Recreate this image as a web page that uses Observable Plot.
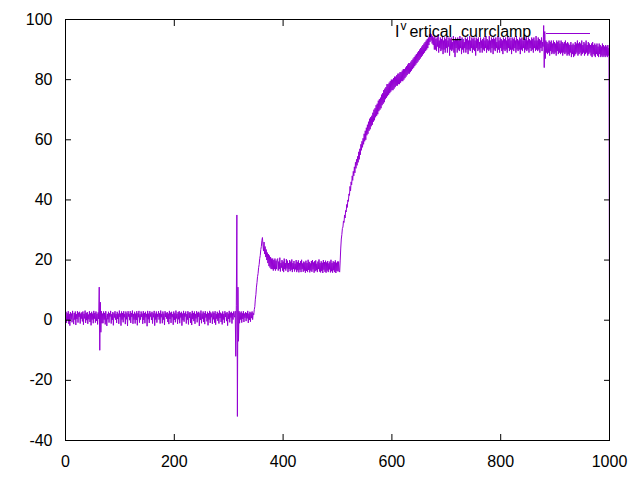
<!DOCTYPE html>
<html><head><meta charset="utf-8">
<script src="https://cdn.jsdelivr.net/npm/d3@7"></script>
<script src="https://cdn.jsdelivr.net/npm/@observablehq/plot@0.6"></script>
<style>body{margin:0;background:#fff;} svg{display:block}</style>
</head><body><div id="chart"></div>
<script>
// Legend text (gnuplot enhanced: "I" + superscript "v" + "ertical_currclamp")
const legendParts = ["I", "v", "ertical_currclamp"];
// Sample spacing along x
const xStep = 1;
// Values, one per x-unit from 0 to 1000
const values = [
  // 0-61
  1.2,2.8,-0.9,2.3,0.1,3,-1.2,2.1,-1.8,2.7,
  0.3,2.2,-0.7,3.1,1,-1.3,2.4,0.2,2.9,-1.6,
  2,0.4,3,-0.8,2.5,1.1,2.8,-1.1,2.2,0.5,
  2.6,-0.4,2.9,-1.5,2.1,0.6,3.2,-0.9,2.4,0,
  2.7,-1.2,1.9,0.3,3,-0.6,2.3,-1.7,2.8,0.2,
  2.2,-1,3.1,0.5,2.4,-0.8,2.9,-0.2,2.1,-1.4,
  2.6,0.4,
  // 62-67 first spike
  11,-10,6,-4,3,-1,
  // 68-310
  2.2,-1,2.9,0.2,2.4,-1.4,3,1,-1.9,2.1,
  0.3,2.8,-0.8,2.3,1.2,3.1,-1.1,2,0.1,2.7,
  -1.7,2.3,0.9,3,0.2,2.1,-0.9,2.8,0.4,2.2,
  -1.2,3.2,1.1,2.2,-1.8,2.9,0.2,2.4,-0.7,3,
  1,2.1,-1.3,2.9,0.3,2.3,-1.9,3,1.2,2.1,
  0,3,-0.9,2.4,1.1,3.2,-1.2,2.1,0.2,2.8,
  -1.1,2.2,0.1,3,-1.7,2.3,1,3.1,-0.8,2,
  0.2,2.9,1.1,2.2,-1.2,3,0.1,2.4,-1,2.8,
  1,2.1,-2,3.1,0.3,2.2,-0.9,3,1.2,2.3,
  0.1,2.8,-1.1,2.3,1,3.1,-1.8,2.2,0.2,2.9,
  -0.8,2.1,1.1,3,0.2,2.3,-1.1,3.2,1,2.1,
  -1,2.9,0.2,2.2,-1.6,3,1.1,2.4,0.5,2.7,
  -0.6,2.2,-1.3,3.1,0.4,2.5,-0.9,2.8,1,2,
  -1.5,2.9,0.1,2.3,-0.7,3.2,0.6,2.1,-1.2,2.7,
  0.3,3,-1,2.4,0.9,2.8,-1.8,2.2,0,3.1,
  -0.5,2.3,1.2,2.9,-1.1,2.1,0.2,3,-1.4,2.5,
  0.8,2.7,-0.9,2.2,-1.6,3.1,0.4,2.4,-0.3,2.9,
  -1.2,2.1,0.6,3,-0.7,2.5,1.1,2.8,-1.9,2.3,
  0.1,3.2,-1,2.2,0.5,2.9,-0.6,2.4,-1.3,3,
  0.9,2.1,-0.4,2.8,-1.7,2.3,0.2,3.1,-0.9,2.6,
  1,2.2,-1.2,2.9,0.3,2.4,-0.8,3,-1.5,2.1,
  0.5,2.8,-0.2,2.3,-1.1,3.2,0.7,2.5,-0.6,2.2,
  -1.4,2.9,0.2,2.1,-0.9,3,1.1,2.4,-0.3,2.7,
  -1.8,2.2,0.4,3.1,-0.7,2.5,0.9,2.8,-1.1,2.3,
  0.2,2.9,1.5,
  // 311-320 big spike
  1,3,-12,5,35,-32,11,-7,3,-1,
  // 321-346
  2.5,0.2,2.9,-0.8,2.3,0.4,3,-0.6,2.2,0.8,
  2.7,-0.3,2.4,0.6,3.1,-0.9,2.2,0.1,2.8,-0.5,
  2.5,0.7,2.9,0.2,2.3,1.8,
  // 347-362 rise
  3.5,4.5,7,8.5,11,12.5,14.5,15.5,17.5,18.5,20.5,21.5,23.5,24.5,26.5,27.5,
  // 363-389 decay
  25,23,26,22,24.5,21,23.5,20,22.5,19,22,18,21.5,17.5,21,17,20.5,17,20.5,16.5,20,17,20.5,16.5,19.8,17,20.2,
  // 390-501 plateau
  20.5,16.5,19.5,17,20.8,16.2,19,17.5,20,16.5,
  19.5,16,20.5,17,19,16.5,20.3,17.2,19.8,16,
  19,17,20,16.3,19.5,16.8,20.2,16,19,17,
  19.7,16.2,18.8,16.9,20,16,19.3,16.6,19.9,15.9,
  19,16.8,19.6,16,20.1,17,18.9,16.1,19.5,16.5,
  19.2,15.8,19.8,16.4,19,16,20.1,16.7,19.4,15.9,
  18.9,16.5,19.7,16.1,20,16.9,19.2,15.8,19.6,16.3,
  19.9,16.6,18.8,16,19.5,17,20.2,16.2,19,15.9,
  19.6,16.4,19.1,15.7,20,16.8,19.3,16.1,19.8,15.8,
  19.2,16.5,19.7,16,18.9,16.9,19.5,15.9,20.1,16.3,
  19,15.8,19.6,16.6,19.3,16,19.9,15.7,19.1,16.4,
  19.5,16.2,
  // 502-677 rise
  19.5,16.5,16,20,24,27,28.5,30.5,31,33,
  32.5,35,34,36.5,36,38.5,37.5,40,39.5,42,
  41.5,44.5,43,46,45,48,46.5,49.5,48,51,
  49,52.5,50.5,53.5,51.5,54.5,52.5,56,53.5,57,
  55,58.5,56.5,59.5,57.5,60.5,58.5,62,59.5,63,
  60,64,61.5,65,62,66,63,67,63.5,67.5,
  64.5,68,65,69,66,70,66.5,70.5,67.5,71.5,
  68,72,68.5,73,69.5,73.5,70,74,70.5,75,
  71.5,75.5,72,76.5,72.5,77,73.5,77.5,74,78.5,
  74.5,78.5,75,79,75.5,79.5,76,80,76.5,80,
  76.5,80.5,77,81,77.5,81,78,81.5,78,82,
  78.5,82,78.5,82.5,79,82.5,79.5,83,79.5,83.5,
  80,83.5,80.5,84,81,84.5,81.5,85,82,85.5,
  82,85.5,82.5,86,83,86.5,83.5,87,84,87.5,
  84.5,88,85,88.5,85.5,89,86,89.5,86.5,90,
  87,90.5,87.5,91,88,91.5,88.5,92,89,92.5,
  89.5,93,90,93.5,90.5,94,91.5,95,92.5,95.5,
  93,95,92,94.5,91.5,94,
  // 678-877 high plateau
  90,94.5,90,93.5,89.5,94,91,95,89,93,
  90.5,94,89.5,93.5,90,94.5,88.5,93,90,94,
  89,93.5,90.5,94.5,89,93,91,94,88,93.5,
  90,94,89.5,92.5,90,94.5,89,93,87.5,94,
  90.5,93.5,89,94,90,93,89.5,94.5,90.5,93,
  88.5,94,90,93.5,89,92.5,90.5,94,89,93.5,
  90,94,88.5,93,90,94.5,89.5,93,90.5,94,
  89,93.5,90,94,89.5,93,88,94,90.5,93.5,
  89.5,94,90,92.5,89,94,90.5,93,89,93.5,
  90,94,89.5,93,90.5,94.5,89,93.5,90,93,
  89.5,94.5,90,93,89,94,90.5,93.5,88.5,94,
  90,93.5,89.5,94,90.5,92.5,89,94.5,90,93,
  89,94,90.5,93.5,89.5,93,88.5,94,90,93.5,
  89.5,94,90,93,89,94.5,90.5,93.5,89.5,94,
  90,93,88.5,94,90,93.5,89.5,94,90.5,93,
  89,94.5,90,93.5,89.5,93,90,94,88.5,93.5,
  90,94,89.5,93,90.5,94,89,93.5,90,94.5,
  89.5,93,90,94,89,93.5,90.5,93,89.5,94,
  90,93.5,89,94,90.5,93,89.5,94.5,90,93,
  89.5,94,90,93.5,89,93,90.5,94,89.5,92.5,
  // 878-884 spike
  91,98,84,96,87,93,89,
  // 885-999
  92.5,88.5,92,89,93,88,92.5,89.5,93,88.5,
  92,89,93,88.5,92.5,89,92,88,93,89.5,
  92.5,88.5,93,89,92,88.5,93,89,92.5,88,
  92,89,92.5,88.5,93,89,92,88,92.5,88.5,
  92,88,91.5,89,92.5,87.5,91.5,88.5,92,87.5,
  91.5,88,92.5,88.5,92,89,93,88,92,88.5,
  92.5,89,92,88,93,88.5,91.5,89,92.5,88,
  92,88.5,93,89,91.5,88,92.5,88.5,92,89,
  91.5,88,92,87.5,92.5,88.5,91.5,88,92,87.5,
  91.5,88.5,92,88,91,87.5,92,88.5,91.5,87.5,
  91,88,92,87.5,91.5,88,91,87.5,91.5,88,
  91,87.5,91.5,88,90.5,
  // 1000
  5
];
const xTicks = [0, 200, 400, 600, 800, 1000];
const yTicks = [-40, -20, 0, 20, 40, 60, 80, 100];
const xDomain = [0, 1000];
const yDomain = [-40, 100];
const lineColor = "#9400d3";

const data = values.map((v, i) => ({x: i * xStep, y: v}));
const font = "'Liberation Sans', Arial, Helvetica, sans-serif";
const plain = d => String(d);

const chart = Plot.plot({
  width: 640, height: 480,
  marginLeft: 65, marginRight: 31, marginTop: 19, marginBottom: 40,
  style: {fontFamily: font, fontSize: "16px", color: "#000", background: "#fff", overflow: "visible"},
  x: {domain: xDomain},
  y: {domain: yDomain},
  marks: [
    Plot.line(data, {x: "x", y: "y", stroke: lineColor, strokeWidth: 1}),
    Plot.frame({stroke: "#000", strokeWidth: 1}),
    Plot.axisX(xTicks, {anchor: "bottom", tickSize: -6, tickPadding: 21, tickFormat: plain, label: null, fontSize: 16}),
    Plot.axisX(xTicks, {anchor: "top", tickSize: -6, tickFormat: () => "", label: null}),
    Plot.axisY(yTicks, {anchor: "left", tickSize: -6, tickPadding: 19, tickFormat: plain, label: null, fontSize: 16}),
    Plot.axisY(yTicks, {anchor: "right", tickSize: -6, tickFormat: () => "", label: null})
  ]
});
document.getElementById("chart").appendChild(chart);

// Key (legend) in the top-right corner, as gnuplot draws it
const svg = d3.select(chart);
const key = svg.append("g").attr("font-family", font).attr("fill", "#000").attr("text-anchor", "start");
const label = key.append("text").attr("x", 395).attr("y", 37).attr("font-size", 16);
label.append("tspan").text(legendParts[0]);
label.append("tspan").attr("dx", 1).attr("dy", -7).attr("font-size", 12).text(legendParts[1]);
label.append("tspan").attr("dx", 3).attr("dy", 7).text(legendParts[2]);
key.append("line").attr("x1", 546).attr("x2", 590).attr("y1", 33.5).attr("y2", 33.5)
  .attr("stroke", lineColor).attr("stroke-width", 1);
</script>
</body></html>
